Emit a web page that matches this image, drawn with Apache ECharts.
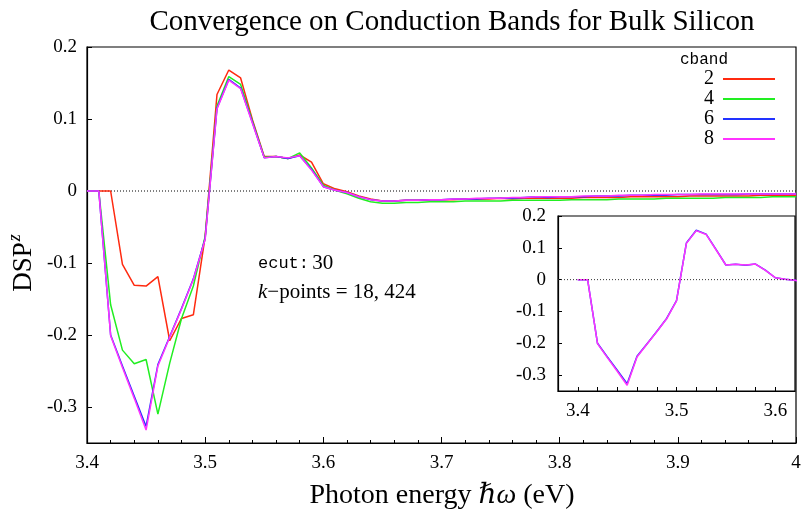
<!DOCTYPE html>
<html>
<head>
<meta charset="utf-8">
<script src="https://cdn.jsdelivr.net/npm/echarts@6/dist/echarts.min.js"></script>
<style>
  html, body { margin: 0; padding: 0; background: #fff; }
  #chart { width: 804px; height: 517px; }
</style>
</head>
<body>
<div id="chart"></div>
<script>
// Photon energies (eV), one sample every 0.01 eV
const energies = [
  3.40, 3.41, 3.42, 3.43, 3.44, 3.45, 3.46, 3.47, 3.48, 3.49,
  3.50, 3.51, 3.52, 3.53, 3.54, 3.55, 3.56, 3.57, 3.58, 3.59,
  3.60, 3.61, 3.62, 3.63, 3.64, 3.65, 3.66, 3.67, 3.68, 3.69,
  3.70, 3.71, 3.72, 3.73, 3.74, 3.75, 3.76, 3.77, 3.78, 3.79,
  3.80, 3.81, 3.82, 3.83, 3.84, 3.85, 3.86, 3.87, 3.88, 3.89,
  3.90, 3.91, 3.92, 3.93, 3.94, 3.95, 3.96, 3.97, 3.98, 3.99,
  4.00
];

// DSP^z for each number of conduction bands
const cband2 = [
  0, 0, 0, -0.102, -0.131, -0.132, -0.119, -0.208, -0.177, -0.172,
  -0.063, 0.134, 0.168, 0.157, 0.099, 0.048, 0.048, 0.045, 0.050, 0.040,
  0.010, 0.003, -0.001, -0.007, -0.011, -0.014, -0.014, -0.013, -0.013, -0.012,
  -0.012, -0.012, -0.011, -0.011, -0.011, -0.010, -0.011, -0.010, -0.010, -0.010,
  -0.010, -0.010, -0.009, -0.009, -0.009, -0.009, -0.008, -0.008, -0.008, -0.008,
  -0.008, -0.007, -0.007, -0.007, -0.007, -0.007, -0.007, -0.006, -0.006, -0.006,
  -0.006
];
const cband4 = [
  0, 0, -0.158, -0.221, -0.240, -0.234, -0.310, -0.239, -0.177, -0.132,
  -0.063, 0.118, 0.159, 0.148, 0.097, 0.047, 0.048, 0.045, 0.053, 0.032,
  0.008, 0.001, -0.004, -0.010, -0.015, -0.017, -0.017, -0.016, -0.016, -0.015,
  -0.015, -0.015, -0.014, -0.014, -0.014, -0.014, -0.013, -0.013, -0.013, -0.013,
  -0.013, -0.012, -0.012, -0.012, -0.012, -0.011, -0.011, -0.011, -0.011, -0.010,
  -0.010, -0.010, -0.010, -0.010, -0.009, -0.009, -0.009, -0.009, -0.008, -0.008,
  -0.008
];
const cband6 = [
  0, 0, -0.200, -0.243, -0.285, -0.327, -0.241, -0.202, -0.163, -0.122,
  -0.066, 0.115, 0.155, 0.143, 0.095, 0.046, 0.048, 0.045, 0.049, 0.030,
  0.006, 0.001, -0.002, -0.008, -0.012, -0.014, -0.014, -0.013, -0.013, -0.012,
  -0.012, -0.011, -0.011, -0.011, -0.010, -0.010, -0.010, -0.009, -0.008, -0.009,
  -0.008, -0.008, -0.008, -0.007, -0.007, -0.007, -0.006, -0.006, -0.006, -0.006,
  -0.005, -0.005, -0.005, -0.005, -0.005, -0.005, -0.004, -0.004, -0.004, -0.004,
  -0.004
];
const cband8 = [
  0, 0, -0.201, -0.245, -0.288, -0.332, -0.243, -0.203, -0.164, -0.123,
  -0.067, 0.114, 0.154, 0.142, 0.094, 0.046, 0.048, 0.046, 0.049, 0.029,
  0.006, 0.001, -0.002, -0.008, -0.012, -0.014, -0.014, -0.013, -0.013, -0.012,
  -0.012, -0.011, -0.011, -0.010, -0.010, -0.010, -0.009, -0.009, -0.008, -0.008,
  -0.008, -0.008, -0.007, -0.007, -0.007, -0.006, -0.006, -0.006, -0.005, -0.005,
  -0.005, -0.005, -0.004, -0.004, -0.004, -0.004, -0.004, -0.004, -0.004, -0.004,
  -0.004
];

const bandNames = ['2', '4', '6', '8'];
const bandValues = [cband2, cband4, cband6, cband8];
const bandColors = ['#ff2a10', '#22ee22', '#2233ff', '#ff33ff'];

// Tick labels
const mainYTicks = [-0.3, -0.2, -0.1, 0, 0.1, 0.2];
const insetYTicks = [-0.3, -0.2, -0.1, 0, 0.1, 0.2];
const insetXLabels = [3.4, 3.5, 3.6];
const insetXTicks = [3.40, 3.42, 3.44, 3.46, 3.48, 3.50, 3.52, 3.54, 3.56, 3.58, 3.60];

// Reference zero lines of both panels
const mainZero = [[3.4, 0], [4.0, 0]];
const insetZero = [[3.38, 0], [3.62, 0]];

const SERIF = '"Liberation Serif", "DejaVu Serif", serif';
const MONO = '"Liberation Mono", "DejaVu Sans Mono", monospace';

function pairs(values) {
  return energies.map((e, i) => [e, values[i]]);
}

function yLabel(v) {
  if (v === 0) return '0';
  return v.toFixed(1);
}

function zeroSeries(id, data, axisIndex, z, color) {
  return {
    id: id,
    name: id,
    type: 'line',
    xAxisIndex: axisIndex,
    yAxisIndex: axisIndex,
    data: data,
    showSymbol: false,
    symbol: 'none',
    silent: true,
    lineStyle: { color: color, width: 1, type: [1, 2] },
    z: z
  };
}

const series = [zeroSeries('zeroMain', mainZero, 0, 2, '#000')];
bandNames.forEach((name, i) => {
  series.push({
    name: name,
    type: 'line',
    xAxisIndex: 0,
    yAxisIndex: 0,
    data: pairs(bandValues[i]),
    showSymbol: false,
    symbol: 'none',
    color: bandColors[i],
    lineStyle: { width: 1.5, color: bandColors[i] },
    z: 3 + i
  });
});
// Inset: close-up of the absorption edge for the converged runs
[2, 3].forEach((i) => {
  series.push({
    name: 'inset-' + bandNames[i],
    type: 'line',
    xAxisIndex: 1,
    yAxisIndex: 1,
    data: pairs(bandValues[i]),
    showSymbol: false,
    symbol: 'none',
    color: bandColors[i],
    lineStyle: { width: 1.5, color: bandColors[i] },
    z: 22 + i
  });
});
series.push(zeroSeries('zeroInset', insetZero, 1, 40, '#333'));

const axisLine = { show: true, onZero: false, lineStyle: { color: '#000', width: 1.2 } };

const option = {
  animation: false,
  backgroundColor: '#fff',
  title: {
    text: 'Convergence on Conduction Bands for Bulk Silicon',
    left: 447,
    textAlign: 'center',
    top: 3,
    textStyle: { fontFamily: SERIF, fontSize: 29, fontWeight: 'normal', color: '#000' }
  },
  legend: {
    data: bandNames,
    orient: 'vertical',
    right: 24,
    top: 64,
    align: 'right',
    icon: 'rect',
    itemWidth: 52,
    itemHeight: 2,
    itemGap: 0,
    textStyle: { fontFamily: SERIF, fontSize: 20, color: '#000', lineHeight: 19.7, padding: [0, 4, 0, 0] }
  },
  grid: [
    { left: 87, right: 8, top: 47, bottom: 74, show: true, borderColor: '#000', borderWidth: 1.2, backgroundColor: 'transparent', z: 1 },
    { left: 558, right: 9, top: 216, bottom: 126, show: true, borderColor: '#000', borderWidth: 1.2, backgroundColor: '#fff', z: 10 }
  ],
  xAxis: [
    {
      type: 'value', gridIndex: 0, min: 3.4, max: 4, interval: 0.1,
      axisLine: axisLine,
      axisTick: { show: true, inside: true, length: 6, lineStyle: { color: '#000', width: 1 } },
      minorTick: { show: true, splitNumber: 5, length: 3, lineStyle: { color: '#000', width: 1 } },
      splitLine: { show: false },
      axisLabel: { color: '#000', fontFamily: SERIF, fontSize: 19, margin: 11, formatter: (v) => String(+v.toFixed(1)) },
      z: 2
    },
    {
      type: 'value', gridIndex: 1, min: 3.38, max: 3.62,
      axisLine: axisLine,
      axisTick: { show: true, inside: true, length: 4, customValues: insetXTicks, lineStyle: { color: '#000', width: 1 } },
      splitLine: { show: false },
      axisLabel: { color: '#000', fontFamily: SERIF, fontSize: 19, margin: 11, customValues: insetXLabels, formatter: (v) => String(+v.toFixed(1)) },
      z: 11
    }
  ],
  yAxis: [
    {
      type: 'value', gridIndex: 0, min: -0.35, max: 0.2,
      axisLine: axisLine,
      axisTick: { show: true, inside: true, length: 5, customValues: mainYTicks, lineStyle: { color: '#000', width: 1 } },
      splitLine: { show: false },
      axisLabel: { color: '#000', fontFamily: SERIF, fontSize: 19, margin: 10, customValues: mainYTicks, formatter: yLabel },
      z: 2
    },
    {
      type: 'value', gridIndex: 1, min: -0.35, max: 0.2,
      axisLine: axisLine,
      axisTick: { show: true, inside: true, length: 4, customValues: insetYTicks, lineStyle: { color: '#000', width: 1 } },
      splitLine: { show: false },
      axisLabel: { color: '#000', fontFamily: SERIF, fontSize: 19, margin: 12, customValues: insetYTicks, formatter: yLabel },
      z: 11
    }
  ],
  graphic: [
    {
      type: 'text',
      x: 442, y: 496,
      style: {
        text: '{r|Photon energy }{i|ℏω}{r| (eV)}',
        align: 'center', verticalAlign: 'middle',
        rich: {
          r: { fontFamily: SERIF, fontSize: 28, fill: '#000' },
          i: { fontFamily: SERIF, fontSize: 28, fontStyle: 'italic', fill: '#000' }
        }
      }
    },
    {
      type: 'text',
      x: 22, y: 263,
      rotation: Math.PI / 2,
      style: {
        text: '{r|DSP}{s|z}',
        align: 'center', verticalAlign: 'middle',
        rich: {
          r: { fontFamily: SERIF, fontSize: 27, fill: '#000', verticalAlign: 'bottom' },
          s: { fontFamily: SERIF, fontSize: 18, fontStyle: 'italic', fill: '#000', padding: [0, 0, 13, 1], verticalAlign: 'bottom' }
        }
      }
    },
    {
      type: 'text',
      x: 258, y: 263,
      style: {
        text: '{m|ecut:} {r|30}',
        verticalAlign: 'middle',
        rich: {
          m: { fontFamily: MONO, fontSize: 17, fill: '#000' },
          r: { fontFamily: SERIF, fontSize: 21, fill: '#000' }
        }
      }
    },
    {
      type: 'text',
      x: 258, y: 292,
      style: {
        text: '{i|k}{r|−points = 18, 424}',
        verticalAlign: 'middle',
        rich: {
          i: { fontFamily: SERIF, fontSize: 21, fontStyle: 'italic', fill: '#000' },
          r: { fontFamily: SERIF, fontSize: 21, fill: '#000' }
        }
      }
    },
    {
      type: 'text',
      x: 680, y: 60,
      style: { text: 'cband', fontFamily: MONO, fontSize: 16, fill: '#000', verticalAlign: 'middle' }
    }
  ],
  series: series
};

const chart = echarts.init(document.getElementById('chart'), null, { renderer: 'canvas' });
chart.setOption(option);
</script>
</body>
</html>
